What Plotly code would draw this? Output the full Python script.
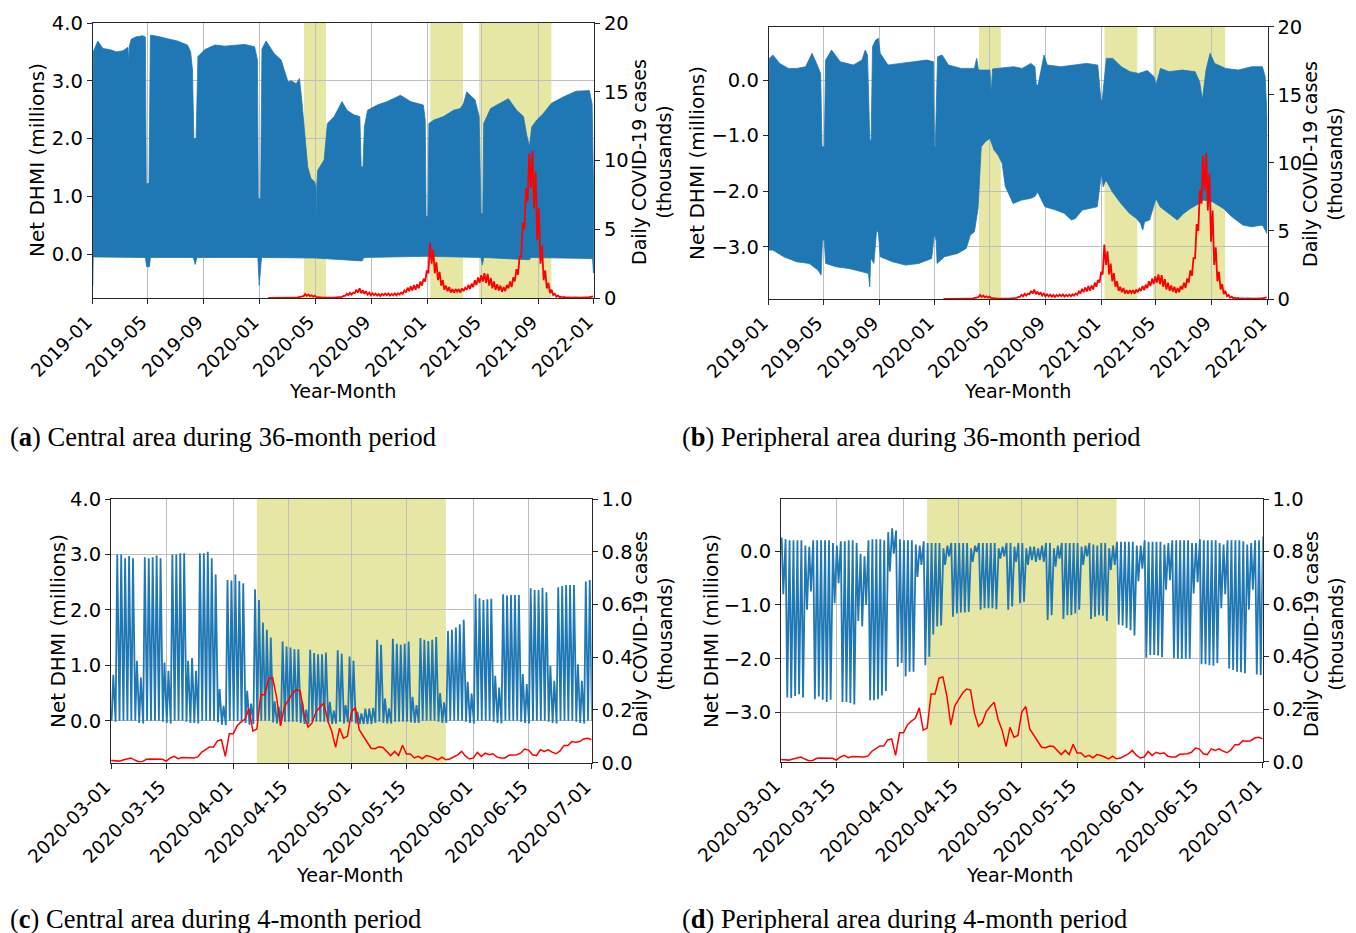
import pandas as pd
import plotly.graph_objects as go

# ------------------------------------------------------------------ data
# state-of-emergency periods (yellow shading)
shade_36 = [("2020-04-07", "2020-05-25"), ("2021-01-08", "2021-03-21"), ("2021-04-25", "2021-09-30")]
shade_4 = [("2020-04-07", "2020-05-25")]

# 36-month Net DHMI (millions): upper / lower envelope of the hourly signal, central area
central_up_dates = ["2019-01-01", "2019-01-02", "2019-01-12", "2019-01-23", "2019-02-07", "2019-02-22", "2019-03-08",
                    "2019-03-19", "2019-03-21", "2019-03-22", "2019-03-26", "2019-04-05", "2019-04-20", "2019-04-26",
                    "2019-04-28", "2019-05-04", "2019-05-07", "2019-05-23", "2019-06-13", "2019-07-05", "2019-07-27",
                    "2019-08-03", "2019-08-07", "2019-08-10", "2019-08-15", "2019-08-19", "2019-09-03", "2019-09-25",
                    "2019-10-17", "2019-11-08", "2019-11-29", "2019-12-21", "2019-12-27", "2019-12-29", "2020-01-03",
                    "2020-01-06", "2020-01-15", "2020-02-02", "2020-02-17", "2020-03-03", "2020-03-10", "2020-03-21",
                    "2020-03-28", "2020-04-02", "2020-04-08", "2020-04-15", "2020-04-22", "2020-04-30", "2020-05-03",
                    "2020-05-04", "2020-05-05", "2020-05-07", "2020-05-21", "2020-05-28", "2020-06-12", "2020-06-29",
                    "2020-07-10", "2020-07-25", "2020-08-07", "2020-08-10", "2020-08-14", "2020-08-17", "2020-08-24",
                    "2020-09-14", "2020-10-06", "2020-11-04", "2020-11-26", "2020-12-24", "2020-12-28", "2020-12-30",
                    "2021-01-03", "2021-01-05", "2021-01-16", "2021-02-06", "2021-02-28", "2021-03-15", "2021-03-22",
                    "2021-03-29", "2021-04-05", "2021-04-16", "2021-04-25", "2021-04-29", "2021-05-03", "2021-05-05",
                    "2021-05-20", "2021-06-03", "2021-06-28", "2021-07-16", "2021-07-31", "2021-08-07", "2021-08-13",
                    "2021-08-18", "2021-08-29", "2021-09-12", "2021-09-30", "2021-10-26", "2021-11-23", "2021-12-22",
                    "2021-12-28", "2021-12-31"]
central_up = [1.77, 3.50, 3.69, 3.56, 3.54, 3.50, 3.52,
              3.58, 3.30, 3.60, 3.72, 3.76, 3.78, 3.76,
              1.22, 1.22, 3.79, 3.77, 3.73, 3.69, 3.62,
              3.50, 3.19, 2.00, 2.00, 3.42, 3.54, 3.62,
              3.60, 3.62, 3.63, 3.59, 3.36, 0.96, 0.96,
              3.55, 3.69, 3.47, 3.36, 2.98, 3.00, 2.95,
              3.04, 2.67, 2.09, 1.51, 1.31, 1.25, 1.17,
              0.30, 1.20, 1.45, 1.63, 2.26, 2.38, 2.64,
              2.49, 2.41, 2.38, 1.51, 1.51, 2.20, 2.49,
              2.58, 2.64, 2.75, 2.64, 2.58, 2.32, 0.65,
              0.65, 2.26, 2.32, 2.38, 2.49, 2.52, 2.61,
              2.81, 2.75, 2.67, 2.38, 0.70, 0.70, 2.26,
              2.52, 2.58, 2.69, 2.49, 2.38, 2.06, 1.86,
              2.20, 2.32, 2.43, 2.61, 2.72, 2.82, 2.83,
              2.60, 1.22]
central_lo_dates = ["2019-01-01", "2019-01-02", "2019-04-26", "2019-04-29", "2019-05-05", "2019-05-07", "2019-08-09",
                    "2019-08-13", "2019-08-17", "2019-12-28", "2019-12-31", "2020-01-02", "2020-01-05", "2020-05-02",
                    "2020-08-12", "2020-08-16", "2021-01-01", "2021-04-29", "2021-05-02", "2021-05-05", "2021-08-13",
                    "2021-08-16", "2021-12-29", "2021-12-31"]
central_lo = [-0.55, -0.05, -0.06, -0.22, -0.22, -0.06, -0.06,
              -0.18, -0.06, -0.06, -0.54, -0.40, -0.06, -0.07,
              -0.12, -0.06, -0.04, -0.06, -0.19, -0.06, -0.10,
              -0.06, -0.08, -0.33]

# 36-month Net DHMI (millions): peripheral area
periph_up_dates = ["2019-01-01", "2019-01-02", "2019-01-10", "2019-01-25", "2019-02-13", "2019-03-04", "2019-03-23",
                   "2019-04-06", "2019-04-16", "2019-04-25", "2019-04-28", "2019-05-03", "2019-05-06", "2019-05-19",
                   "2019-06-07", "2019-07-06", "2019-07-25", "2019-08-01", "2019-08-06", "2019-08-11", "2019-08-14",
                   "2019-08-17", "2019-08-24", "2019-08-30", "2019-09-03", "2019-09-20", "2019-10-18", "2019-11-16",
                   "2019-12-14", "2019-12-29", "2019-12-31", "2020-01-02", "2020-01-07", "2020-01-17", "2020-01-31",
                   "2020-02-28", "2020-03-28", "2020-04-02", "2020-04-06", "2020-05-01", "2020-05-04", "2020-05-07",
                   "2020-05-24", "2020-06-22", "2020-07-11", "2020-07-30", "2020-08-08", "2020-08-11", "2020-08-15",
                   "2020-08-28", "2020-09-04", "2020-10-04", "2020-11-02", "2020-11-30", "2020-12-24", "2020-12-28",
                   "2020-12-31", "2021-01-03", "2021-01-12", "2021-01-26", "2021-02-14", "2021-03-05", "2021-03-24",
                   "2021-04-12", "2021-04-27", "2021-05-01", "2021-05-11", "2021-05-30", "2021-06-28", "2021-07-26",
                   "2021-08-05", "2021-08-11", "2021-08-19", "2021-08-28", "2021-09-07", "2021-10-01", "2021-10-29",
                   "2021-11-27", "2021-12-21", "2021-12-27", "2021-12-31"]
periph_up = [-0.69, 0.39, 0.45, 0.30, 0.21, 0.21, 0.24,
             0.48, 0.30, 0.12, -1.20, -1.20, 0.36, 0.54,
             0.33, 0.27, 0.36, 0.54, 0.45, -1.08, -1.08,
             0.60, 0.72, 0.75, 0.48, 0.27, 0.30, 0.33,
             0.36, 0.33, -1.20, -1.20, 0.42, 0.45, 0.27,
             0.21, 0.21, 0.39, 0.18, 0.18, -0.24, 0.20,
             0.21, 0.24, 0.21, 0.30, 0.24, -0.09, -0.09,
             0.45, 0.27, 0.24, 0.27, 0.30, 0.27, -0.06,
             -0.36, -0.36, 0.39, 0.39, 0.24, 0.15, 0.12,
             0.17, 0.06, -0.09, 0.21, 0.15, 0.18, 0.15,
             -0.03, -0.36, 0.18, 0.48, 0.30, 0.21, 0.18,
             0.24, 0.24, 0.06, -0.66]
periph_lo_dates = ["2019-01-01", "2019-01-10", "2019-02-03", "2019-03-03", "2019-03-31", "2019-04-19", "2019-04-26",
                   "2019-04-29", "2019-05-03", "2019-05-06", "2019-05-29", "2019-06-26", "2019-07-25", "2019-08-08",
                   "2019-08-11", "2019-08-13", "2019-08-20", "2019-08-26", "2019-08-30", "2019-09-03", "2019-09-30",
                   "2019-10-29", "2019-11-27", "2019-12-25", "2019-12-31", "2020-01-04", "2020-01-06", "2020-01-22",
                   "2020-02-20", "2020-03-10", "2020-03-19", "2020-03-28", "2020-04-05", "2020-04-12", "2020-04-21",
                   "2020-05-01", "2020-05-10", "2020-05-19", "2020-05-28", "2020-06-04", "2020-06-11", "2020-06-21",
                   "2020-07-10", "2020-07-29", "2020-08-07", "2020-08-14", "2020-08-30", "2020-09-23", "2020-10-12",
                   "2020-10-27", "2020-11-05", "2020-11-20", "2020-12-09", "2020-12-23", "2021-01-01", "2021-01-05",
                   "2021-01-11", "2021-01-25", "2021-02-13", "2021-03-04", "2021-03-19", "2021-03-28", "2021-04-02",
                   "2021-04-06", "2021-04-17", "2021-05-01", "2021-05-10", "2021-05-29", "2021-06-17", "2021-07-01",
                   "2021-07-16", "2021-08-04", "2021-08-14", "2021-09-02", "2021-09-26", "2021-10-15", "2021-11-08",
                   "2021-11-27", "2021-12-21", "2021-12-31"]
periph_lo = [-3.06, -3.06, -3.18, -3.27, -3.30, -3.42, -3.51,
             -2.88, -2.88, -3.30, -3.36, -3.39, -3.45, -3.48,
             -3.72, -3.20, -3.30, -2.70, -2.75, -3.18, -3.27,
             -3.33, -3.30, -3.21, -2.76, -2.90, -3.30, -3.18,
             -3.12, -3.03, -2.79, -2.73, -2.31, -1.20, -1.11,
             -1.05, -1.26, -1.35, -1.50, -1.92, -2.04, -2.22,
             -2.16, -2.13, -2.10, -2.02, -2.28, -2.34, -2.40,
             -2.52, -2.49, -2.34, -2.31, -2.28, -1.68, -1.92,
             -1.80, -2.01, -2.22, -2.40, -2.49, -2.58, -2.70,
             -2.55, -2.52, -2.13, -2.28, -2.40, -2.52, -2.40,
             -2.31, -2.22, -2.16, -2.19, -2.31, -2.46, -2.61,
             -2.64, -2.61, -2.76]

# Daily COVID-19 cases (thousands), twice a week (Mon, Thu) from 2020-01-20
cases36_start = "2020-01-20"
cases36 = [
    0, 0, 0, 0.002,                                                     # 2020-01
    0, 0, 0.002, 0.005, 0.005, 0.01, 0.008, 0.012,                      # 2020-02
    0.008, 0.015, 0.01, 0.015, 0.015, 0.02, 0.02, 0.06, 0.08, 0.15,     # 2020-03
    0.14, 0.30, 0.15, 0.26, 0.13, 0.20, 0.10, 0.17,                     # 2020-04
    0.05, 0.06, 0.03, 0.05, 0.02, 0.02, 0.01, 0.02,                     # 2020-05
    0.02, 0.035, 0.02, 0.03, 0.04, 0.05, 0.05, 0.07, 0.08, 0.15,        # 2020-06
    0.15, 0.30, 0.20, 0.38, 0.25, 0.40, 0.35, 0.60,                     # 2020-07
    0.40, 0.70, 0.35, 0.55, 0.30, 0.50, 0.25, 0.40, 0.20, 0.35,         # 2020-08
    0.20, 0.32, 0.18, 0.30, 0.15, 0.30, 0.20, 0.32,                     # 2020-09
    0.20, 0.33, 0.18, 0.30, 0.20, 0.33, 0.20, 0.35,                     # 2020-10
    0.25, 0.40, 0.30, 0.55, 0.40, 0.75, 0.50, 0.85, 0.55, 0.95,         # 2020-11
    0.60, 1.00, 0.70, 1.20, 0.90, 1.40, 1.20, 2.00,                     # 2020-12
    1.80, 4.00, 2.50, 3.50, 1.80, 2.60, 1.30, 1.90,                     # 2021-01
    0.90, 1.30, 0.60, 0.90, 0.50, 0.80, 0.40, 0.65,                     # 2021-02
    0.40, 0.65, 0.45, 0.65, 0.40, 0.70, 0.50, 0.75, 0.60, 0.95,         # 2021-03
    0.65, 1.05, 0.80, 1.30, 0.95, 1.50, 1.10, 1.65,                     # 2021-04
    1.20, 1.80, 1.10, 1.75, 0.90, 1.45, 0.70, 1.20, 0.60, 1.00,         # 2021-05
    0.55, 0.90, 0.45, 0.80, 0.50, 0.95, 0.70, 1.20,                     # 2021-06
    0.80, 1.50, 1.20, 2.10, 1.70, 3.00, 3.00, 5.50,                     # 2021-07
    5.00, 8.00, 7.00, 10.50, 8.00, 10.70, 6.50, 9.20, 4.20, 6.50,       # 2021-08
    2.50, 3.80, 1.30, 2.00, 0.70, 1.10, 0.35, 0.60,                     # 2021-09
    0.20, 0.30, 0.10, 0.18, 0.06, 0.10, 0.04, 0.07,                     # 2021-10
    0.03, 0.05, 0.03, 0.04, 0.03, 0.04, 0.02, 0.04, 0.02, 0.03,         # 2021-11
    0.02, 0.03, 0.03, 0.04, 0.04, 0.06, 0.08, 0.12,                     # 2021-12
]

# 4-month period, one value per day from 2020-03-01 (Sunday)
days4_start = "2020-03-01"
# central: daytime maximum and night minimum (millions)
central_day = [
    0.83, 3.00, 3.00, 2.93, 2.97, 2.93, 1.08,
    0.78, 2.95, 2.93, 2.95, 2.98, 2.93, 1.05,
    0.90, 3.00, 3.00, 3.02, 3.02, 1.08, 1.13,
    0.90, 3.02, 3.02, 3.05, 2.93, 2.64, 0.57,
    0.27, 2.54, 2.53, 2.64, 2.52, 2.48, 0.54,
    0.31, 2.37, 2.18, 1.77, 1.64, 1.50, 0.35,
    0.25, 1.43, 1.34, 1.32, 1.29, 1.29, 0.34,
    0.20, 1.28, 1.22, 1.20, 1.20, 1.23, 0.34,
    0.18, 1.27, 1.21, 0.28, 1.16, 1.08, 0.16,
    0.13, 0.22, 0.22, 0.23, 1.46, 1.37, 0.40,
    0.22, 1.48, 1.39, 1.37, 1.39, 1.43, 0.43,
    0.28, 1.49, 1.46, 1.44, 1.46, 1.51, 0.50,
    0.33, 1.62, 1.64, 1.68, 1.74, 1.82, 0.70,
    0.49, 2.28, 2.21, 2.18, 2.19, 2.20, 0.81,
    0.60, 2.28, 2.26, 2.27, 2.27, 2.27, 0.84,
    0.66, 2.39, 2.36, 2.36, 2.40, 2.32, 0.99,
    0.72, 2.41, 2.43, 2.45, 2.45, 2.45, 1.02,
    0.72, 2.51, 2.54,
]
central_night = [
    0.00, -0.02, 0.00, 0.00, 0.00, 0.00, 0.00,
    -0.04, -0.05, 0.00, 0.00, 0.00, 0.00, -0.02,
    -0.04, -0.05, 0.00, 0.00, 0.00, -0.02, -0.04,
    -0.04, -0.05, 0.00, 0.00, 0.00, 0.00, -0.03,
    -0.07, -0.08, 0.00, 0.00, 0.00, 0.00, -0.04,
    -0.07, -0.06, 0.00, 0.00, 0.00, 0.00, -0.03,
    -0.05, -0.06, -0.02, -0.02, -0.02, -0.02, -0.04,
    -0.06, -0.06, -0.02, -0.02, -0.02, -0.02, -0.04,
    -0.06, -0.05, -0.02, -0.05, -0.03, -0.02, -0.05,
    -0.06, -0.06, -0.06, -0.06, -0.04, -0.02, -0.04,
    -0.05, -0.05, -0.02, -0.02, -0.02, -0.02, -0.03,
    -0.04, -0.04, 0.00, 0.00, 0.00, 0.00, -0.02,
    -0.04, -0.04, 0.00, 0.00, 0.00, 0.00, -0.02,
    -0.04, -0.05, 0.00, 0.00, 0.00, 0.00, -0.02,
    -0.04, -0.05, 0.00, 0.00, 0.00, 0.00, -0.02,
    -0.04, -0.05, 0.00, 0.00, 0.00, 0.00, -0.02,
    -0.04, -0.05, 0.00, 0.00, 0.00, 0.00, -0.02,
    -0.04, -0.05, 0.00, 0.00,
]
# peripheral: daytime minimum and night maximum (millions)
periph_day = [
    -0.80, -2.72, -2.73, -2.69, -2.66, -2.72, -1.09,
    -0.75, -2.75, -2.70, -2.76, -2.80, -2.76, -0.97,
    -0.60, -2.80, -2.80, -2.82, -2.85, -1.30, -1.40,
    -1.00, -2.77, -2.77, -2.75, -2.68, -2.60, -0.38,
    -0.05, -2.15, -2.08, -2.33, -2.24, -2.24, -0.48,
    -0.26, -2.12, -1.96, -1.55, -1.40, -1.38, -0.26,
    -0.10, -1.22, -1.16, -1.14, -1.14, -1.13, -0.20,
    -0.02, -1.09, -1.06, -1.06, -1.06, -1.08, -0.14,
    -0.10, -1.09, -1.03, -0.20, -0.97, -0.94, -0.26,
    -0.17, -0.20, -0.17, -0.20, -1.28, -1.19, -0.29,
    -0.14, -1.26, -1.19, -1.19, -1.16, -1.09, -0.26,
    -0.10, -1.26, -1.22, -1.19, -1.20, -1.30, -0.35,
    -0.26, -1.37, -1.38, -1.43, -1.47, -1.57, -0.56,
    -0.33, -1.98, -1.93, -1.93, -1.94, -1.97, -0.72,
    -0.54, -1.99, -2.00, -2.00, -2.00, -2.00, -0.79,
    -0.58, -2.10, -2.10, -2.12, -2.13, -2.08, -1.06,
    -0.80, -2.18, -2.21, -2.24, -2.25, -2.27, -1.09,
    -0.72, -2.29, -2.30,
]
periph_night = [
    0.25, 0.22, 0.20, 0.20, 0.20, 0.20, 0.10,
    0.08, 0.20, 0.20, 0.20, 0.20, 0.20, 0.15,
    0.10, 0.18, 0.18, 0.20, 0.20, 0.15, -0.05,
    -0.10, 0.20, 0.22, 0.22, 0.22, 0.20, 0.35,
    0.42, 0.38, 0.22, 0.20, 0.20, 0.20, 0.12,
    0.10, 0.18, 0.15, 0.15, 0.15, 0.15, 0.05,
    0.10, 0.15, 0.15, 0.15, 0.15, 0.15, 0.05,
    0.10, 0.15, 0.15, 0.15, 0.15, 0.15, 0.05,
    0.08, 0.15, 0.15, 0.08, 0.15, 0.15, 0.05,
    0.08, 0.08, 0.05, 0.10, 0.15, 0.15, 0.05,
    0.10, 0.15, 0.15, 0.15, 0.15, 0.15, 0.08,
    0.10, 0.15, 0.12, 0.10, 0.15, 0.15, 0.05,
    0.10, 0.17, 0.17, 0.17, 0.17, 0.17, 0.10,
    0.10, 0.20, 0.17, 0.17, 0.17, 0.17, 0.12,
    0.15, 0.20, 0.20, 0.20, 0.20, 0.20, 0.15,
    0.15, 0.22, 0.20, 0.20, 0.20, 0.20, 0.15,
    0.12, 0.20, 0.20, 0.20, 0.20, 0.18, 0.12,
    0.15, 0.20, 0.20, 0.27,
]
# daily COVID-19 cases (thousands), 2020-03-01 .. 2020-07-01
cases4 = [
    0.008, 0.006, 0.006, 0.010, 0.015, 0.018, 0.010, 0.004, 0.005, 0.013,
    0.014, 0.014, 0.014, 0.013, 0.006, 0.018, 0.024, 0.015, 0.020, 0.020,
    0.018, 0.018, 0.022, 0.040, 0.050, 0.060, 0.060, 0.083, 0.087, 0.024,
    0.110, 0.110, 0.140, 0.155, 0.165, 0.205, 0.120, 0.128, 0.258, 0.258,
    0.318, 0.323, 0.250, 0.140, 0.213, 0.235, 0.262, 0.277, 0.273, 0.185,
    0.135, 0.150, 0.192, 0.210, 0.226, 0.160, 0.120, 0.058, 0.131, 0.093,
    0.100, 0.190, 0.210, 0.125, 0.100, 0.075, 0.055, 0.053, 0.060, 0.058,
    0.043, 0.027, 0.043, 0.027, 0.066, 0.033, 0.033, 0.018, 0.024, 0.015,
    0.027, 0.024, 0.018, 0.011, 0.021, 0.011, 0.014, 0.021, 0.030, 0.043,
    0.025, 0.014, 0.018, 0.039, 0.024, 0.036, 0.030, 0.034, 0.021, 0.018,
    0.018, 0.028, 0.029, 0.030, 0.036, 0.052, 0.048, 0.030, 0.027, 0.049,
    0.043, 0.049, 0.040, 0.034, 0.045, 0.065, 0.065, 0.080, 0.078, 0.080,
    0.090, 0.093, 0.087,
]

# ------------------------------------------------------------------ helpers
W, H = 1356, 933
BLUE = "#1f77b4"
RED = "#ff0000"
YELLOW = "rgb(230,230,165)"
GRID = "#bfbfbf"
FONT = "DejaVu Sans"
FS = 19.5      # y tick labels
FSX = 18.5     # rotated x tick labels
FSL = 20       # left y title
FSR = 19       # right y title
FSXT = 19.2    # x title


def env_polygon(up_d, up_v, lo_d, lo_v):
    xs = list(pd.to_datetime(up_d)) + list(pd.to_datetime(lo_d))[::-1]
    ys = list(up_v) + list(lo_v)[::-1]
    return xs, ys


def daily_wave(night, day):
    t0 = pd.Timestamp(days4_start)
    xs, ys = [], []
    for i, v in enumerate(day):
        xs += [t0 + pd.Timedelta(hours=24 * i + 3), t0 + pd.Timedelta(hours=24 * i + 13)]
        ys += [night[i], v]
    xs.append(t0 + pd.Timedelta(hours=24 * len(day) + 3))
    ys.append(night[len(day)])
    return xs, ys


cases36_x = pd.date_range(cases36_start, periods=len(cases36), freq="84h")
cases4_x = pd.date_range(days4_start, periods=len(cases4), freq="D")

fig = go.Figure()

# panel boxes in pixels: (left, top, right, bottom)
panels = [
    dict(box=(92.7, 23, 594, 298), xa="x", ya="y", yb="y2", ylr=[-0.762, 4.001], ytv=[0, 1, 2, 3, 4],
         yrr=[0, 20.001], yrtv=[0, 5, 10, 15, 20], yrfmt="d", kind=36, shade=shade_36,
         yl=(37, 160), yr=(651, 162), xt=(342, 392), cap=(8, 437), letter="a",
         captxt="Central area during 36-month period"),
    dict(box=(768.7, 26.7, 1267.5, 299), xa="x2", ya="y3", yb="y4", ylr=[-3.94, 0.96], ytv=[-3, -2, -1, 0],
         yrr=[0, 20.001], yrtv=[0, 5, 10, 15, 20], yrfmt="d", kind=36, shade=shade_36,
         yl=(697, 163), yr=(1323, 164), xt=(1017, 392), cap=(680, 437), letter="b",
         captxt="Peripheral area during 36-month period"),
    dict(box=(111, 499, 591.7, 762.7), xa="x3", ya="y5", yb="y6", ylr=[-0.758, 4.001], ytv=[0, 1, 2, 3, 4],
         yrr=[0, 1.0005], yrtv=[0, 0.2, 0.4, 0.6, 0.8, 1.0], yrfmt=".1f", kind=4, shade=shade_4,
         yl=(58, 631), yr=(652, 634), xt=(350, 875), cap=(8, 919), letter="c",
         captxt="Central area during 4-month period"),
    dict(box=(781, 499, 1262.7, 761.7), xa="x4", ya="y7", yb="y8", ylr=[-3.91, 0.965], ytv=[-3, -2, -1, 0],
         yrr=[0, 1.0005], yrtv=[0, 0.2, 0.4, 0.6, 0.8, 1.0], yrfmt=".1f", kind=4, shade=shade_4,
         yl=(711, 631), yr=(1323, 634), xt=(1020, 875), cap=(680, 919), letter="d",
         captxt="Peripheral area during 4-month period"),
]

blue_sets = [
    env_polygon(central_up_dates, central_up, central_lo_dates, central_lo),
    env_polygon(periph_up_dates, periph_up, periph_lo_dates, periph_lo),
    daily_wave(central_night, central_day),
    daily_wave(periph_night, periph_day),
]

layout = dict(template="none", width=W, height=H, margin=dict(l=0, r=0, t=0, b=0, pad=0, autoexpand=False),
              autosize=False, paper_bgcolor="white", plot_bgcolor="white", showlegend=False,
              font=dict(family=FONT, size=FS, color="black"))
shapes, annotations = [], []

for i, p in enumerate(panels):
    l, t, r, b = p["box"]
    xs, ys = blue_sets[i]
    if p["kind"] == 36:
        fig.add_trace(go.Scatter(x=xs, y=ys, mode="lines", fill="toself", fillcolor=BLUE,
                                 line=dict(color=BLUE, width=0.8), xaxis=p["xa"], yaxis=p["ya"],
                                 hoverinfo="skip"))
        fig.add_trace(go.Scatter(x=cases36_x, y=cases36, mode="lines", line=dict(color=RED, width=1.8),
                                 xaxis=p["xa"], yaxis=p["yb"], hoverinfo="skip"))
        xr = ["2018-12-31 20:00", "2022-01-01 04:00"]
        xtv = list(pd.date_range("2019-01-01", "2022-01-01", freq="4MS"))
        xfmt = "%Y-%m"
    else:
        fig.add_trace(go.Scatter(x=xs, y=ys, mode="lines", line=dict(color=BLUE, width=1.8),
                                 xaxis=p["xa"], yaxis=p["ya"], hoverinfo="skip"))
        fig.add_trace(go.Scatter(x=cases4_x, y=cases4, mode="lines", line=dict(color=RED, width=1.5),
                                 xaxis=p["xa"], yaxis=p["yb"], hoverinfo="skip"))
        xr = ["2020-02-29 23:00", "2020-07-01 01:00"]
        xtv = ["2020-03-01", "2020-03-15", "2020-04-01", "2020-04-15", "2020-05-01", "2020-05-15",
               "2020-06-01", "2020-06-15", "2020-07-01"]
        xfmt = "%Y-%m-%d"

    xkey = "xaxis" + p["xa"][1:]
    ykey = "yaxis" + p["ya"][1:]
    y2key = "yaxis" + p["yb"][1:]
    common = dict(automargin=False, zeroline=False, ticks="outside", ticklen=5, tickwidth=1,
                  tickcolor="#262626")
    layout[xkey] = dict(domain=[l / W, r / W], anchor=p["ya"], range=xr, type="date",
                        tickvals=xtv, tickformat=xfmt, tickangle=-45, ticklabelshift=-6,
                        tickfont=dict(family=FONT, size=FSX, color="black"),
                        showgrid=True, gridcolor=GRID, gridwidth=1,
                        showline=True, linecolor="#262626", linewidth=1, mirror=True, **common)
    layout[ykey] = dict(domain=[1 - b / H, 1 - t / H], anchor=p["xa"], range=p["ylr"],
                        tickvals=p["ytv"], tickformat=".1f",
                        tickfont=dict(family=FONT, size=FS, color="black"),
                        showgrid=True, gridcolor=GRID, gridwidth=1,
                        showline=True, linecolor="#262626", linewidth=1, mirror=True, **common)
    layout[y2key] = dict(overlaying=p["ya"], anchor=p["xa"], side="right", range=p["yrr"],
                         tickvals=p["yrtv"], tickformat=p["yrfmt"],
                         tickfont=dict(family=FONT, size=FS, color="black"),
                         showgrid=False, showline=False, **common)

    for s0, s1 in p["shade"]:
        shapes.append(dict(type="rect", xref=p["xa"], yref=p["ya"] + " domain", x0=s0, x1=s1, y0=0, y1=1,
                           fillcolor=YELLOW, line=dict(width=0), layer="below"))

    annotations.append(dict(text="Net DHMI (millions)", x=p["yl"][0] / W, y=1 - p["yl"][1] / H,
                            xref="paper", yref="paper", textangle=-90, showarrow=False,
                            xanchor="center", yanchor="middle",
                            font=dict(family=FONT, size=FSL, color="black")))
    annotations.append(dict(text="Daily COVID-19 cases<br>(thousands)", x=p["yr"][0] / W, y=1 - p["yr"][1] / H,
                            xref="paper", yref="paper", textangle=-90, showarrow=False,
                            xanchor="center", yanchor="middle",
                            font=dict(family=FONT, size=FSR, color="black")))
    annotations.append(dict(text="Year-Month", x=p["xt"][0] / W, y=1 - p["xt"][1] / H, xref="paper",
                            yref="paper", showarrow=False, xanchor="center", yanchor="middle",
                            font=dict(family=FONT, size=FSXT, color="black")))
    annotations.append(dict(text="(<b>" + p["letter"] + "</b>) " + p["captxt"], x=p["cap"][0] / W,
                            y=1 - p["cap"][1] / H, xref="paper", yref="paper", showarrow=False,
                            xanchor="left", yanchor="middle",
                            font=dict(family="Liberation Serif", size=26.5, color="black")))

layout["shapes"] = shapes
layout["annotations"] = annotations
fig.update_layout(**layout)

fig.write_html("out.html")
